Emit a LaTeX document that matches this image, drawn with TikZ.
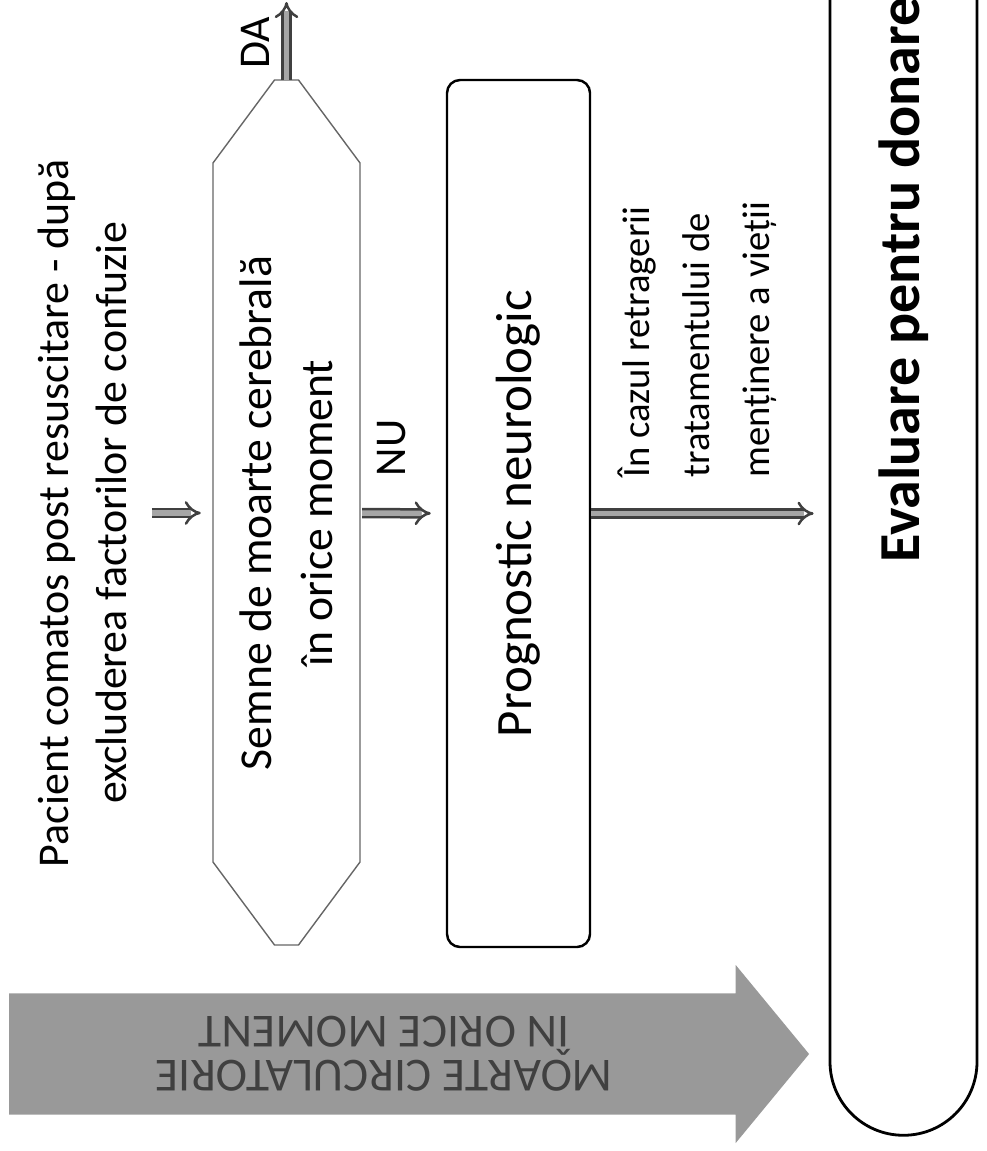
\documentclass[tikz,border=0pt]{standalone}
\usepackage{fontspec}
\setmainfont{Carlito}
\usetikzlibrary{positioning, shapes.misc, shapes.arrows, arrows.meta}

\begin{document}
\begin{tikzpicture}[x=0.1mm, y=-0.1mm,
  flow/.style={draw=black!75, double=black!35, double distance=0.55mm, line width=0.25mm, -{Implies}},
  hexbox/.style={rectangle, rotate=90, minimum width=86.5mm, minimum height=15mm, align=center, font=\fontsize{13}{17.5}\selectfont},
  hexline/.style={draw=black!60, line width=0.4pt},
  progbox/.style={rectangle, rounded corners=1.3mm, draw=black, line width=0.7pt, rotate=90, minimum width=86.7mm, minimum height=14.3mm, font=\fontsize{14.5}{17}\selectfont},
  evalbox/.style={rounded rectangle, draw=black, line width=0.8pt, rotate=90, minimum width=173.4mm, minimum height=14.7mm, font=\fontsize{16.5}{19}\selectfont\bfseries},
  circarrow/.style={single arrow, shape border rotate=180, rotate=180, fill=black!40, draw=none, minimum height=80mm, minimum width=17.8mm, single arrow head extend=2.35mm, single arrow tip angle=101, align=center, text=black!75, font=\fontsize{13.5}{12.5}\selectfont},
  txt/.style={rotate=90, font=\fontsize{12.5}{16.5}\selectfont}
]
\useasboundingbox (0,0) rectangle (986,1151);
\clip (0,0) rectangle (986,1151);

% main column of boxes
\node[txt, align=center] (pacient) at (82,513) {Pacient comatos post resuscitare - după\\excluderea factorilor de confuzie};
\node[hexbox] (sign) at (286.5,513) {Semne de moarte cerebrală\\în orice moment};
\draw[hexline] (274.5,80) -- (298.5,80) -- (360,163) -- (360,862) -- (298.5,945) -- (274.5,945) -- (213,862) -- (213,163) -- cycle;
\node[progbox] (prog) at (518.5,513.5) {Prognostic neurologic};
\node[evalbox] (eval) at (903.5,280) {Evaluare pentru donare};
\coordinate (daend) at (286.5,2);

% circulatory death, any time
\node[circarrow, anchor=tip] (circ) at (810,1054) {MOARTE CIRCULATORIE\\ÎN ORICE MOMENT};

% connectors
\draw[flow, shorten <=1.3mm, shorten >=1mm] (pacient) -- (sign);
\draw[flow] (sign.east) -- (daend);
\draw[flow, shorten >=1.5mm] (sign) -- (prog);
\draw[flow, shorten >=1.5mm] (prog.south) -- (prog.south -| eval.north);

% labels
\node[txt] (da) at (255,43) {DA};
\node[txt] (nu) at (392,448) {NU};
\node[txt, anchor=west, align=left, font=\fontsize{11}{17}\selectfont] (stop) at (697,490) {În cazul retragerii\\tratamentului de\\menținere a vieții};
\end{tikzpicture}
\end{document}
